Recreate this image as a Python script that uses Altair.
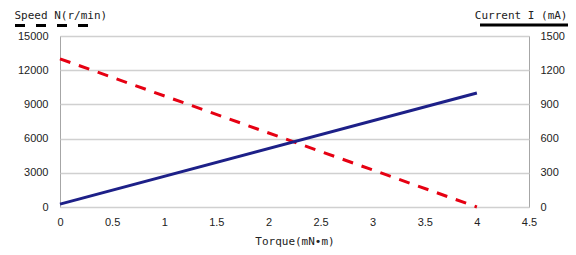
import altair as alt
import pandas as pd

torque = [0, 4]
speed = [13000, 0]
current = [25, 1000]
x_ticks = [0, 0.5, 1, 1.5, 2, 2.5, 3, 3.5, 4, 4.5]
speed_ticks = [0, 3000, 6000, 9000, 12000, 15000]
current_ticks = [0, 300, 600, 900, 1200, 1500]

df = pd.DataFrame({"torque": torque, "speed": speed, "current": current})

LABEL_FONT = "Liberation Sans"
TITLE_FONT = "DejaVu Sans Mono"
RED = "#e60012"
BLUE = "#1d2088"

x_enc = alt.X(
    "torque:Q",
    scale=alt.Scale(domain=[0, 4.5], nice=False, zero=False),
    axis=alt.Axis(
        values=x_ticks, format="~g", title="Torque(mN•m)",
        grid=False, domain=False, ticks=False,
        labelFlush=False, labelOverlap=False,
        labelPadding=9, titlePadding=8,
        labelFont=LABEL_FONT, labelFontSize=11, labelColor="#222",
        titleFont=TITLE_FONT, titleFontSize=11, titleFontWeight="normal", titleColor="#222",
    ),
)

base = alt.Chart(df)

speed_line = base.mark_line(color=RED, strokeWidth=3, strokeDash=[11, 9]).encode(
    x=x_enc,
    y=alt.Y(
        "speed:Q",
        scale=alt.Scale(domain=[0, 15000], nice=False),
        axis=alt.Axis(
            values=speed_ticks, format="d", title="Speed N(r/min)",
            orient="left", grid=True, gridColor="#d0d0d0", gridWidth=1.5,
            domain=False, ticks=False, labelPadding=12,
            labelFlush=False, labelOverlap=False,
            labelFont=LABEL_FONT, labelFontSize=11, labelColor="#222",
            titleAngle=0, titleAlign="left", titleBaseline="top",
            titleX=-46, titleY=-27,
            titleFont=TITLE_FONT, titleFontSize=11, titleFontWeight="normal", titleColor="#222",
        ),
    ),
)

current_line = base.mark_line(color=BLUE, strokeWidth=3).encode(
    x=x_enc,
    y=alt.Y(
        "current:Q",
        scale=alt.Scale(domain=[0, 1500], nice=False),
        axis=alt.Axis(
            values=current_ticks, format="d", title="Current I (mA)",
            orient="right", grid=False,
            domain=False, ticks=False, labelPadding=11,
            labelFlush=False, labelOverlap=False,
            labelFont=LABEL_FONT, labelFontSize=11, labelColor="#222",
            titleAngle=0, titleAlign="right", titleBaseline="top",
            titleX=38, titleY=-27,
            titleFont=TITLE_FONT, titleFontSize=11, titleFontWeight="normal", titleColor="#222",
        ),
    ),
)

legend_speed = alt.Chart(pd.DataFrame({"k": [0]})).mark_rule(
    color="black", strokeWidth=3, strokeDash=[10, 11]
).encode(x=alt.value(-45), x2=alt.value(30), y=alt.value(-10.5))

legend_current = alt.Chart(pd.DataFrame({"k": [0]})).mark_rule(
    color="black", strokeWidth=3
).encode(x=alt.value(420), x2=alt.value(509), y=alt.value(-11))

chart = (
    alt.layer(speed_line, current_line, legend_speed, legend_current)
    .resolve_scale(y="independent")
    .properties(
        width=469, height=171,
        autosize=alt.AutoSizeParams(type="none"),
        padding={"left": 52, "top": 28, "right": 39, "bottom": 40},
        background="white",
    )
    .configure_view(stroke="#a6a6a6", strokeWidth=1)
)

chart.save("out.html", embed_options={"renderer": "svg", "actions": False})
